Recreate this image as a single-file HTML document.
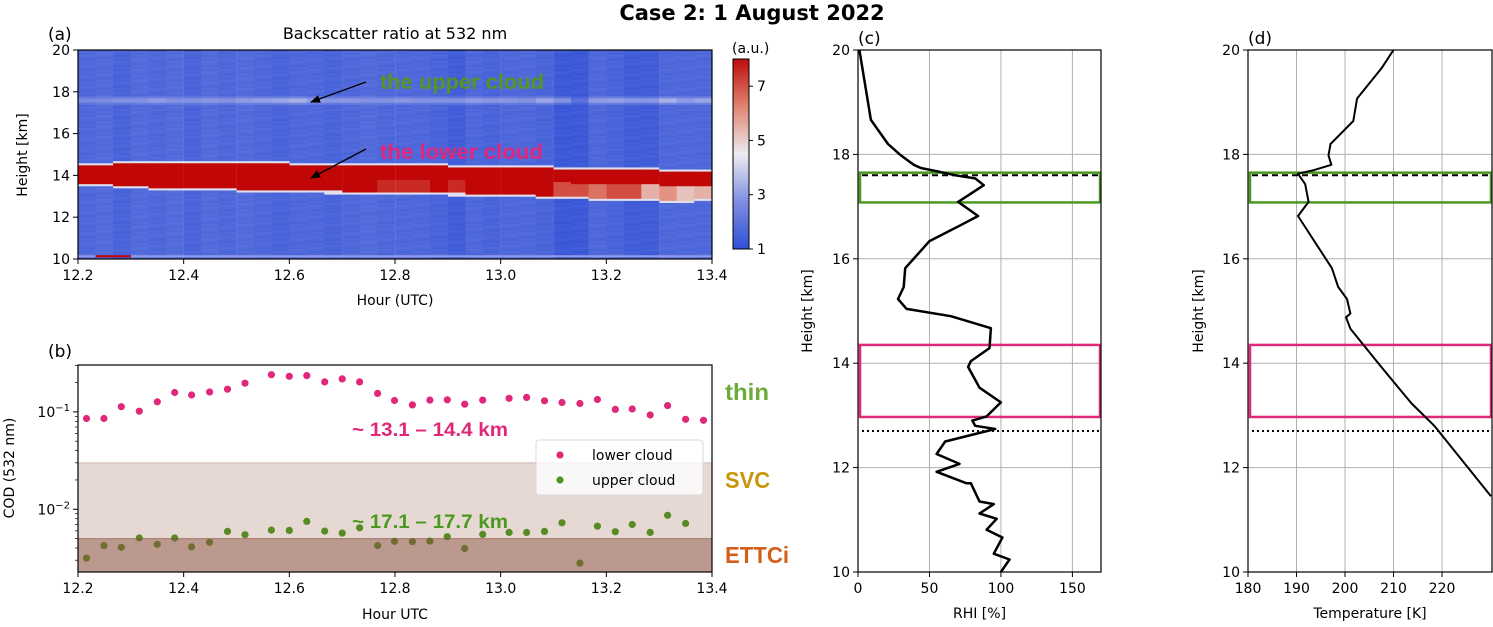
<!DOCTYPE html>
<html><head><meta charset="utf-8"><style>
body{margin:0;background:#fff;}
svg{display:block;font-family:"DejaVu Sans","Liberation Sans",sans-serif;}
.ann{font-family:"Liberation Sans",sans-serif;font-weight:bold;}
</style></head><body>
<svg id="fig" width="1493" height="627" viewBox="0 0 1493 627" xmlns="http://www.w3.org/2000/svg">
<defs>
<linearGradient id="cbg" x1="0" y1="1" x2="0" y2="0">
<stop offset="0" stop-color="#2f4fd5"/><stop offset="0.25" stop-color="#7f8ee2"/><stop offset="0.5" stop-color="#ecebf1"/><stop offset="0.75" stop-color="#e08470"/><stop offset="1" stop-color="#bd0d0d"/>
</linearGradient>
<marker id="ah" markerWidth="10" markerHeight="8" refX="9" refY="4" orient="auto" markerUnits="userSpaceOnUse"><path d="M0,0 L10,4 L0,8 z" fill="#000"/></marker>
<clipPath id="clipB"><rect x="78" y="365" width="634" height="207"/></clipPath>
<clipPath id="clipC"><rect x="858" y="50" width="243" height="522"/></clipPath>
<clipPath id="clipD"><rect x="1248" y="50" width="244" height="522"/></clipPath>
</defs>
<text x="752" y="20" text-anchor="middle" font-size="21" font-weight="bold">Case 2: 1 August 2022</text>
<g id="pa"></g>
<g id="pb"></g>
<g id="pc"></g>
<g id="pd"></g>
</svg>
<script>
// ---- panel a data ----
const aHours=[12.217,12.25,12.283,12.317,12.35,12.383,12.417,12.45,12.483,12.517,12.55,12.583,12.617,12.65,12.683,12.717,12.75,12.783,12.817,12.85,12.883,12.917,12.95,12.983,13.017,13.05,13.083,13.117,13.15,13.183,13.217,13.25,13.283,13.317,13.35,13.383];
const aLowerTop=[14.55,14.55,14.57,14.57,14.57,14.58,14.58,14.58,14.58,14.58,14.57,14.56,14.55,14.55,14.53,14.52,14.5,14.5,14.48,14.47,14.46,14.45,14.43,14.42,14.4,14.38,14.36,14.35,14.33,14.32,14.3,14.28,14.27,14.25,14.23,14.22];
const aLowerBase=[13.62,13.62,13.52,13.52,13.45,13.4,13.38,13.38,13.42,13.35,13.33,13.32,13.3,13.3,13.25,13.22,13.2,13.18,13.18,13.17,13.17,13.15,13.13,13.12,13.1,13.07,13.03,13.0,12.97,12.93,12.9,12.88,12.87,12.83,12.85,12.87];
const aUpperVal=[2.6,2.7,2.8,2.8,3.0,2.8,2.8,2.9,2.8,3.0,3.1,3.2,3.4,3.0,2.9,2.9,2.8,2.8,2.9,2.8,2.8,2.8,3.0,2.9,2.9,2.8,3.2,2.8,2.0,3.0,3.1,2.9,2.9,3.4,3.0,3.2];
const aBg=[1.6,1.7,1.5,1.7,1.6,1.7,1.5,1.7,1.6,1.7,1.6,1.5,1.6,1.6,1.5,1.6,1.7,1.6,1.6,1.6,1.5,1.3,1.6,1.5,1.6,1.6,1.5,1.2,1.2,1.6,1.5,1.3,1.3,1.6,1.6,1.6];
const aInner=[8,8,8,8,8,8,8,8,8,8,8,8,8,8,8,8,8,7.5,7.5,7.5,8,7.5,8,8,8,8,8,7,7,6.5,7,7,5.5,6,5.2,5.5];
// ---- panel b data ----
const bLowerHours=[12.216,12.249,12.282,12.316,12.35,12.383,12.415,12.449,12.483,12.516,12.566,12.6,12.633,12.667,12.7,12.733,12.767,12.799,12.833,12.866,12.899,12.932,12.966,13.016,13.049,13.083,13.116,13.15,13.183,13.217,13.249,13.283,13.316,13.35,13.384];
const bLowerCOD=[0.0855,0.0855,0.113,0.1016,0.127,0.158,0.149,0.160,0.171,0.197,0.241,0.232,0.236,0.203,0.218,0.203,0.155,0.131,0.118,0.132,0.133,0.120,0.132,0.138,0.141,0.130,0.125,0.122,0.134,0.106,0.107,0.093,0.116,0.084,0.082];
const bUpperHours=[12.216,12.249,12.282,12.316,12.35,12.383,12.415,12.449,12.483,12.516,12.566,12.6,12.633,12.667,12.7,12.733,12.767,12.799,12.833,12.866,12.899,12.932,12.966,13.016,13.049,13.083,13.116,13.15,13.183,13.217,13.249,13.283,13.316,13.35];
const bUpperCOD=[0.00315,0.00424,0.00407,0.00507,0.00437,0.00507,0.00411,0.00458,0.00593,0.00548,0.00611,0.00607,0.0075,0.00597,0.0057,0.00645,0.00424,0.00469,0.00466,0.00471,0.00523,0.00396,0.00552,0.00579,0.00579,0.00593,0.00727,0.0028,0.00671,0.00589,0.00698,0.00579,0.00868,0.00714];
const bBands=[0.03,0.005];
// ---- panel c data ----
const cRHI=[1,9,21,30,39,44,60,68,82,88,70,84,73,50,33,32,28,34,65,93,92,79,77,85,100,90,80,82,96,61,55,71,55,76,79,85,95,85,97,90,101,95,106,100];
const cHeight=[20,18.66,18.2,17.98,17.8,17.74,17.65,17.6,17.54,17.41,17.09,16.82,16.66,16.34,15.82,15.46,15.23,15.04,14.9,14.67,14.29,14.04,13.93,13.53,13.25,12.98,12.9,12.8,12.74,12.5,12.26,12.07,11.92,11.7,11.7,11.35,11.3,11.12,11.02,10.81,10.66,10.35,10.24,10];
// ---- panel d data ----
const dTemp=[210,207.6,202.5,201.7,197,196.6,197.2,193.6,190.3,191.8,192.5,190.3,197.3,198.6,200.4,201.1,200.2,201.1,207.2,213.7,218.4,230.1];
const dHeight=[20,19.66,19.07,18.64,18.2,17.98,17.8,17.7,17.63,17.43,17.09,16.82,15.82,15.46,15.23,14.95,14.88,14.66,13.96,13.23,12.8,11.45];
const refLines=[17.6,12.7];
const upperBox=[17.08,17.65];
const lowerBox=[12.97,14.35];

const NS="http://www.w3.org/2000/svg";
function mk(parent,tag,attrs,text){const e=document.createElementNS(NS,tag);for(const k in attrs)e.setAttribute(k,attrs[k]);if(text!==undefined)e.textContent=text;parent.appendChild(e);return e;}

const stops=[[1,[47,79,213]],[2.75,[127,142,226]],[4.5,[236,235,241]],[6.25,[224,132,112]],[8,[192,6,6]]];
function cmap(v){v=Math.max(1,Math.min(8,v));for(let i=0;i<stops.length-1;i++){const a=stops[i],b=stops[i+1];if(v<=b[0]){const t=(v-a[0])/(b[0]-a[0]);const c=a[1].map((x,j)=>Math.round(x+(b[1][j]-x)*t));return `rgb(${c[0]},${c[1]},${c[2]})`;}}return "rgb(192,6,6)";}

// ===== Panel A =====
const pa=document.getElementById('pa');
const ax0=78,ax1=712,ay0=50,ay1=259;
const axX=h=>ax0+(h-12.2)/1.2*(ax1-ax0);
const axY=k=>ay1-(k-10)/10*(ay1-ay0);
const colW=(ax1-ax0)/aHours.length;
for(let i=0;i<aHours.length;i++){
  const x=axX(aHours[i])-colW/2;
  for(let r=0;r<100;r++){
    const k=10+r*0.1+0.05;
    let v=aBg[i]+((r*7+i*3)%5)*0.05;
    if(Math.abs(k-17.6)<0.1)v=aUpperVal[i];
    else if(Math.abs(k-17.6)<0.2)v=(aUpperVal[i]+aBg[i])/2;
    if(k<aLowerTop[i]&&k>aLowerBase[i]){v=(k<(aLowerTop[i]+aLowerBase[i])/2)?aInner[i]:8;}
    else if(Math.abs(k-aLowerTop[i])<0.1||Math.abs(k-aLowerBase[i])<0.1)v=4.3;
    if(k<10.2&&k>10.1)v=(i==1||i==2)?8:3;
    const cell=mk(pa,'rect',{x:x.toFixed(2),y:(axY(k+0.05)).toFixed(2),width:(colW+0.4).toFixed(2),height:(axY(k-0.05)-axY(k+0.05)+0.4).toFixed(2),fill:cmap(v)});
    
    
  }
}
mk(pa,'rect',{x:ax0,y:ay0,width:ax1-ax0,height:ay1-ay0,fill:'none',stroke:'#000','stroke-width':1.2,});
for(const h of [12.2,12.4,12.6,12.8,13.0,13.2,13.4]){const x=axX(h);mk(pa,'line',{x1:x,y1:ay1,x2:x,y2:ay1+5,stroke:'#000'});mk(pa,'text',{x:x,y:ay1+21,'text-anchor':'middle','font-size':14,},h.toFixed(1));}
for(const k of [10,12,14,16,18,20]){const y=axY(k);mk(pa,'line',{x1:ax0-5,y1:y,x2:ax0,y2:y,stroke:'#000'});mk(pa,'text',{x:ax0-8,y:y+5,'text-anchor':'end','font-size':14,},k);}
mk(pa,'text',{x:395,y:305,'text-anchor':'middle','font-size':14,},'Hour (UTC)');
mk(pa,'text',{x:0,y:0,'text-anchor':'middle','font-size':14,transform:'translate(27,155) rotate(-90)',},'Height [km]');
mk(pa,'text',{x:395,y:39,'text-anchor':'middle','font-size':16,},'Backscatter ratio at 532 nm');
mk(pa,'text',{x:48,y:40,'font-size':17,},'(a)');
mk(pa,'text',{x:380,y:89,'font-size':21,'class':'ann',fill:'#55961e',textLength:164,lengthAdjust:'spacingAndGlyphs',},'the upper cloud');
mk(pa,'text',{x:380,y:159,'font-size':21,'class':'ann',fill:'#e0287a',textLength:163,lengthAdjust:'spacingAndGlyphs',},'the lower cloud');
mk(pa,'line',{x1:366,y1:82,x2:311,y2:102,stroke:'#000','stroke-width':1.3,'marker-end':'url(#ah)',});
mk(pa,'line',{x1:366,y1:149,x2:311,y2:178,stroke:'#000','stroke-width':1.3,'marker-end':'url(#ah)',});
mk(pa,'rect',{x:733,y:59,width:16,height:190,fill:'url(#cbg)',stroke:'#000','stroke-width':1,});
const cbY=v=>249-(v-1)/7*190;
for(const v of [1,3,5,7]){const y=cbY(v);mk(pa,'line',{x1:749,y1:y,x2:753,y2:y,stroke:'#000'});mk(pa,'text',{x:757,y:y+5,'font-size':14,},v);}
mk(pa,'text',{x:732,y:53,'font-size':14,},'(a.u.)');

// ===== Panel B =====
const pb=document.getElementById('pb');
const bx0=78,bx1=712,by0=365,by1=572;
const bX=h=>bx0+(h-12.2)/1.2*(bx1-bx0);
const LTOP=Math.log10(0.303),LBOT=Math.log10(0.00227);
const bY=v=>by0+(LTOP-Math.log10(v))/(LTOP-LBOT)*(by1-by0);
const gb=mk(pb,'g',{'clip-path':'url(#clipB)'});
for(let i=0;i<bLowerHours.length;i++){const d=mk(gb,'circle',{cx:bX(bLowerHours[i]).toFixed(1),cy:bY(bLowerCOD[i]).toFixed(1),r:3.6,fill:'#e0287a'});

}
for(let i=0;i<bUpperHours.length;i++){const d=mk(gb,'circle',{cx:bX(bUpperHours[i]).toFixed(1),cy:bY(bUpperCOD[i]).toFixed(1),r:3.6,fill:'#4a9a1f'});

}
mk(gb,'rect',{x:bx0,y:bY(bBands[0]),width:bx1-bx0,height:bY(bBands[1])-bY(bBands[0]),fill:'rgb(140,80,60)','fill-opacity':0.22,stroke:'rgb(140,80,60)','stroke-opacity':0.3,});
mk(gb,'rect',{x:bx0,y:bY(bBands[1]),width:bx1-bx0,height:by1-bY(bBands[1])+2,fill:'rgb(140,80,60)','fill-opacity':0.58,stroke:'rgb(140,80,60)','stroke-opacity':0.4,});
mk(pb,'rect',{x:bx0,y:by0,width:bx1-bx0,height:by1-by0,fill:'none',stroke:'#000','stroke-width':1.2,});
for(const h of [12.2,12.4,12.6,12.8,13.0,13.2,13.4]){const x=bX(h);mk(pb,'line',{x1:x,y1:by1,x2:x,y2:by1+5,stroke:'#000'});mk(pb,'text',{x:x,y:by1+21,'text-anchor':'middle','font-size':14,},h.toFixed(1));}
for(const e of [-3,-2,-1]){for(let m=1;m<10;m++){const v=m*Math.pow(10,e);if(v<0.00227||v>0.303)continue;const y=bY(v);mk(pb,'line',{x1:bx0-(m==1?5:3),y1:y,x2:bx0,y2:y,stroke:'#000','stroke-width':m==1?1:0.7});}}
for(const e of [-1,-2]){const y=bY(Math.pow(10,e));const t=mk(pb,'text',{x:bx0-8,y:y+5,'text-anchor':'end','font-size':14,},'10');mk(t,'tspan',{dy:-6,'font-size':10},'\u2212'+Math.abs(e));}
mk(pb,'text',{x:395,y:619,'text-anchor':'middle','font-size':14,},'Hour UTC');
mk(pb,'text',{x:0,y:0,'text-anchor':'middle','font-size':14,transform:'translate(14,468) rotate(-90)',},'COD (532 nm)');
mk(pb,'text',{x:48,y:357,'font-size':17,},'(b)');
mk(pb,'text',{x:352,y:436,'font-size':19,'class':'ann',fill:'#e0287a',textLength:156,lengthAdjust:'spacingAndGlyphs',},'~ 13.1 \u2013 14.4 km');
mk(pb,'text',{x:352,y:528,'font-size':19,'class':'ann',fill:'#4a9a1f',textLength:156,lengthAdjust:'spacingAndGlyphs',},'~ 17.1 \u2013 17.7 km');
mk(pb,'text',{x:725,y:400,'font-size':23,'class':'ann',fill:'#6aab3a',textLength:44,lengthAdjust:'spacingAndGlyphs',},'thin');
mk(pb,'text',{x:725,y:488,'font-size':23,'class':'ann',fill:'#c8960a',textLength:45,lengthAdjust:'spacingAndGlyphs',},'SVC');
mk(pb,'text',{x:725,y:563,'font-size':23,'class':'ann',fill:'#d2601a',textLength:64,lengthAdjust:'spacingAndGlyphs',},'ETTCi');
const lg=mk(pb,'g',{});
mk(lg,'rect',{x:536,y:440,width:167,height:55,rx:3,fill:'#fff','fill-opacity':0.8,stroke:'#d8d8d8'});
mk(lg,'circle',{cx:560,cy:455,r:3.6,fill:'#e0287a'});
mk(lg,'text',{x:592,y:460,'font-size':14,},'lower cloud');
mk(lg,'circle',{cx:560,cy:480,r:3.6,fill:'#4a9a1f'});
mk(lg,'text',{x:592,y:485,'font-size':14,},'upper cloud');

// ===== Profile panels =====
function profile(g,x0,x1,xmin,xmax,xticks,clip,xs,ys,xlabel,plabel,plx,ylx){
  const y0=50,y1=572;
  const X=v=>x0+(v-xmin)/(xmax-xmin)*(x1-x0);
  const Y=k=>y1-(k-10)/10*(y1-y0);
  for(const t of xticks){mk(g,'line',{x1:X(t),y1:y0,x2:X(t),y2:y1,stroke:'#b0b0b0','stroke-width':1,});}
  for(const k of [12,14,16,18]){mk(g,'line',{x1:x0,y1:Y(k),x2:x1,y2:Y(k),stroke:'#b0b0b0','stroke-width':1,});}
  const cg=mk(g,'g',{'clip-path':clip});
  mk(cg,'line',{x1:x0+4,y1:Y(refLines[0]),x2:x1,y2:Y(refLines[0]),stroke:'#000','stroke-width':2,'stroke-dasharray':'6,4',});
  mk(cg,'line',{x1:x0+4,y1:Y(refLines[1]),x2:x1,y2:Y(refLines[1]),stroke:'#000','stroke-width':2,'stroke-dasharray':'2,3',});
  mk(cg,'rect',{x:x0+2,y:Y(upperBox[1]),width:x1-x0-3,height:Y(upperBox[0])-Y(upperBox[1]),fill:'none',stroke:'#4a9a1f','stroke-width':2.5,});
  mk(cg,'rect',{x:x0+2,y:Y(lowerBox[1]),width:x1-x0-3,height:Y(lowerBox[0])-Y(lowerBox[1]),fill:'none',stroke:'#e0287a','stroke-width':2.5,});
  const pts=xs.map((v,i)=>X(v).toFixed(1)+','+Y(ys[i]).toFixed(1)).join(' ');
  const pl=mk(cg,'polyline',{points:pts,fill:'none',stroke:'#000','stroke-width':plabel=='(c)'?2.5:2,'stroke-linejoin':'round'});
  
  
  mk(g,'rect',{x:x0,y:y0,width:x1-x0,height:y1-y0,fill:'none',stroke:'#000','stroke-width':1.2,});
  for(const t of xticks){mk(g,'line',{x1:X(t),y1:y1,x2:X(t),y2:y1+5,stroke:'#000'});mk(g,'text',{x:X(t),y:y1+21,'text-anchor':'middle','font-size':14,},t);}
  for(const k of [10,12,14,16,18,20]){mk(g,'line',{x1:x0-5,y1:Y(k),x2:x0,y2:Y(k),stroke:'#000'});mk(g,'text',{x:x0-8,y:Y(k)+5,'text-anchor':'end','font-size':14,},k);}
  mk(g,'text',{x:(x0+x1)/2,y:618,'text-anchor':'middle','font-size':14,},xlabel);
  mk(g,'text',{x:0,y:0,'text-anchor':'middle','font-size':14,transform:`translate(${ylx},311) rotate(-90)`,},'Height [km]');
  mk(g,'text',{x:plx,y:44,'font-size':17,},plabel);
}
profile(document.getElementById('pc'),858,1101,0,170,[0,50,100,150],'url(#clipC)',cRHI,cHeight,'RHI [%]','(c)',858,812);
profile(document.getElementById('pd'),1248,1492,180,230.3,[180,190,200,210,220],'url(#clipD)',dTemp,dHeight,'Temperature [K]','(d)',1248,1203);
</script>
</body></html>
